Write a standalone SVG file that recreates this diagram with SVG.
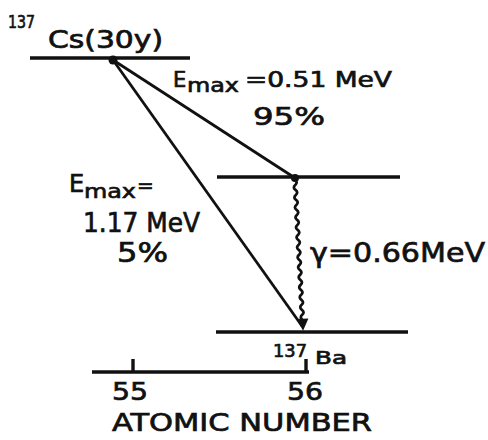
<svg xmlns="http://www.w3.org/2000/svg" width="488" height="440" viewBox="0 0 488 440">
<defs>
<style>
.t{font-family:"DejaVu Sans","Liberation Sans",sans-serif;fill:#111;stroke:#111;stroke-width:0.7;}
.lv{stroke:#111;stroke-width:3.4;fill:none;stroke-linecap:butt;}
.tr{stroke:#111;stroke-width:2.8;fill:none;}
</style>
</defs>
<rect width="488" height="440" fill="#fff"/>
<g id="level-cs">
<line class="lv" x1="30" y1="58" x2="190" y2="58"/>
<text class="t" x="8" y="28" font-size="18" textLength="27" lengthAdjust="spacingAndGlyphs">137</text>
<text class="t" x="48" y="48" font-size="24" textLength="115" lengthAdjust="spacingAndGlyphs">Cs(30y)</text>
</g>
<g id="level-ba-excited">
<line class="lv" x1="217" y1="177" x2="400" y2="177"/>
</g>
<g id="level-ba">
<line class="lv" x1="216" y1="332" x2="408" y2="332"/>
<text class="t" x="273" y="357" font-size="18" textLength="34" lengthAdjust="spacingAndGlyphs">137</text>
<text class="t" x="315" y="364" font-size="18" textLength="32" lengthAdjust="spacingAndGlyphs">Ba</text>
</g>
<g id="connectors">
<line class="tr" x1="113" y1="60" x2="295" y2="178"/>
<line class="tr" x1="113" y1="60" x2="302" y2="326"/>
<circle cx="113" cy="60" r="4.5" fill="#111"/>
<circle cx="295" cy="178" r="4" fill="#111"/>
<g transform="translate(295,180) rotate(-3.05)">
<path class="tr" stroke-width="2.6" d="M0,0 q3,2.5 0,5 q-3,2.5 0,5 q3,2.5 0,5 q-3,2.5 0,5 q3,2.5 0,5 q-3,2.5 0,5 q3,2.5 0,5 q-3,2.5 0,5 q3,2.5 0,5 q-3,2.5 0,5 q3,2.5 0,5 q-3,2.5 0,5 q3,2.5 0,5 q-3,2.5 0,5 q3,2.5 0,5 q-3,2.5 0,5 q3,2.5 0,5 q-3,2.5 0,5 q3,2.5 0,5 q-3,2.5 0,5 q3,2.5 0,5 q-3,2.5 0,5 q3,2.5 0,5 q-3,2.5 0,5 q3,2.5 0,5 q-3,2.5 0,5 q3,2.5 0,5 q-3,2.5 0,5"/>
<polygon points="-6,139 6,139 0,151" fill="#111"/>
</g>
</g>
<g id="label-beta1">
<text class="t" x="173" y="87" font-size="21">E</text>
<text class="t" x="187" y="92" font-size="20" textLength="52" lengthAdjust="spacingAndGlyphs">max</text>
<text class="t" x="245" y="87" font-size="21" textLength="147" lengthAdjust="spacingAndGlyphs">=0.51 MeV</text>
<text class="t" x="253" y="125" font-size="25" textLength="72" lengthAdjust="spacingAndGlyphs">95%</text>
</g>
<g id="label-beta2">
<text class="t" x="69" y="192" font-size="24">E</text>
<text class="t" x="84" y="198" font-size="20" textLength="52" lengthAdjust="spacingAndGlyphs">max</text>
<text class="t" x="137" y="192" font-size="20">=</text>
<text class="t" x="83" y="232" font-size="26" textLength="117" lengthAdjust="spacingAndGlyphs">1.17 MeV</text>
<text class="t" x="117" y="262" font-size="26" textLength="51" lengthAdjust="spacingAndGlyphs">5%</text>
</g>
<g id="label-gamma">
<text class="t" x="310" y="262" font-size="27" textLength="175" lengthAdjust="spacingAndGlyphs">γ=0.66MeV</text>
</g>
<g id="axis">
<line class="lv" x1="92" y1="372" x2="309" y2="372"/>
<line class="lv" x1="133" y1="359" x2="133" y2="372"/>
<line class="lv" x1="306" y1="359" x2="306" y2="372"/>
<text class="t" x="112" y="400" font-size="24" textLength="36" lengthAdjust="spacingAndGlyphs">55</text>
<text class="t" x="287" y="400" font-size="24" textLength="36" lengthAdjust="spacingAndGlyphs">56</text>
<text class="t" x="112" y="431" font-size="24" textLength="260" lengthAdjust="spacingAndGlyphs">ATOMIC NUMBER</text>
</g>
</svg>
